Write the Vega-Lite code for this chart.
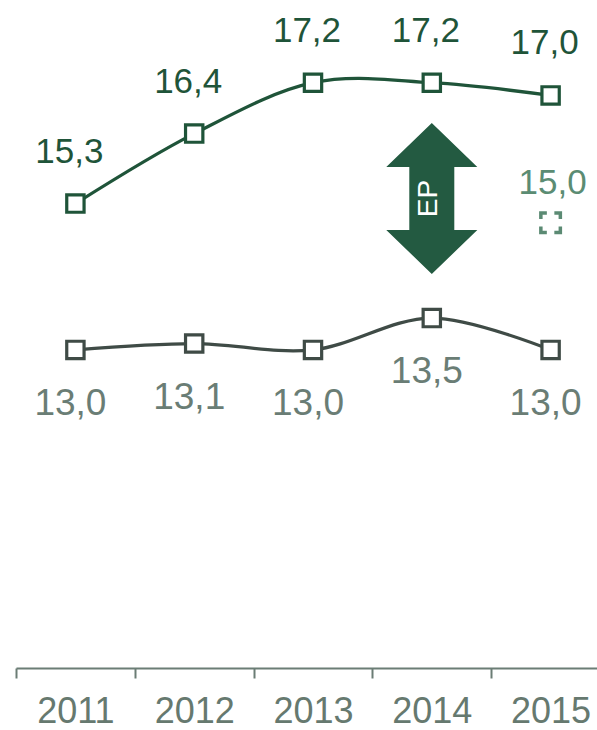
{
  "$schema": "https://vega.github.io/schema/vega-lite/v6.json",
  "width": 581,
  "height": 668,
  "autosize": {"type": "none"},
  "padding": {"left": 16, "top": 0, "right": 0, "bottom": 62},
  "background": "white",
  "config": {"view": {"stroke": null}},
  "data": {
    "values": [
      {"year": "2011", "series": "upper", "value": 15.3, "label": "15,3"},
      {"year": "2012", "series": "upper", "value": 16.4, "label": "16,4"},
      {"year": "2013", "series": "upper", "value": 17.2, "label": "17,2"},
      {"year": "2014", "series": "upper", "value": 17.2, "label": "17,2"},
      {"year": "2015", "series": "upper", "value": 17.0, "label": "17,0"},
      {"year": "2011", "series": "lower", "value": 13.0, "label": "13,0"},
      {"year": "2012", "series": "lower", "value": 13.1, "label": "13,1"},
      {"year": "2013", "series": "lower", "value": 13.0, "label": "13,0"},
      {"year": "2014", "series": "lower", "value": 13.5, "label": "13,5"},
      {"year": "2015", "series": "lower", "value": 13.0, "label": "13,0"},
      {"year": "2015", "series": "target", "value": 15.0, "label": "15,0"},
      {"year": "2014", "series": "arrow", "value": 15.38, "label": "EP"}
    ]
  },
  "encoding": {
    "x": {
      "field": "year",
      "type": "ordinal",
      "scale": {"type": "band", "range": [0, 594], "paddingInner": 0, "paddingOuter": 0},
      "axis": {
        "title": null,
        "labelAngle": 0,
        "domainColor": "#6b7d75",
        "domainWidth": 2,
        "tickColor": "#6b7d75",
        "tickWidth": 2,
        "tickSize": 10,
        "tickOffset": -59.4,
        "labelOffset": 59.4,
        "labelFont": "Liberation Sans",
        "labelFontSize": 36,
        "labelColor": "#66796f",
        "labelPadding": 16
      }
    },
    "y": {
      "field": "value",
      "type": "quantitative",
      "scale": {"domain": [8, 18.5], "nice": false, "zero": false},
      "axis": null
    }
  },
  "layer": [
    {
      "transform": [{"filter": "datum.series === 'arrow'"}],
      "mark": {
        "type": "point",
        "shape": "M0,-1L0.603,-0.417L0.298,-0.417L0.298,0.417L0.603,0.417L0,1L-0.603,0.417L-0.298,0.417L-0.298,-0.417L-0.603,-0.417Z",
        "size": 22801,
        "filled": true,
        "fill": "#235a41",
        "strokeWidth": 0,
        "opacity": 1
      }
    },
    {
      "transform": [{"filter": "datum.series === 'arrow'"}],
      "mark": {
        "type": "text",
        "angle": 270,
        "align": "center",
        "baseline": "middle",
        "font": "Liberation Sans",
        "fontSize": 28,
        "color": "white",
        "dy": -3
      },
      "encoding": {"text": {"field": "label"}}
    },
    {
      "transform": [{"filter": "datum.series === 'upper'"}],
      "mark": {"type": "line", "interpolate": "cardinal", "color": "#1f5439", "strokeWidth": 3.3}
    },
    {
      "transform": [{"filter": "datum.series === 'lower'"}],
      "mark": {"type": "line", "interpolate": "cardinal", "color": "#3f4b46", "strokeWidth": 3.3}
    },
    {
      "transform": [{"filter": "datum.series === 'upper'"}],
      "mark": {"type": "point", "shape": "square", "size": 300, "filled": true, "fill": "white", "stroke": "#1f5439", "strokeWidth": 3.2, "opacity": 1}
    },
    {
      "transform": [{"filter": "datum.series === 'lower'"}],
      "mark": {"type": "point", "shape": "square", "size": 300, "filled": true, "fill": "white", "stroke": "#3f4b46", "strokeWidth": 3.2, "opacity": 1}
    },
    {
      "transform": [{"filter": "datum.series === 'target'"}],
      "mark": {"type": "point", "shape": "square", "size": 380, "filled": false, "stroke": "#5b8a73", "strokeWidth": 3.5, "strokeDash": [12, 7.5], "strokeDashOffset": 6, "opacity": 1}
    },
    {
      "transform": [{"filter": "datum.series === 'upper'"}],
      "mark": {"type": "text", "font": "Liberation Sans", "fontSize": 35, "color": "#1f5439", "baseline": "alphabetic", "align": "center", "dy": -41, "dx": -6},
      "encoding": {"text": {"field": "label"}}
    },
    {
      "transform": [{"filter": "datum.series === 'lower'"}],
      "mark": {"type": "text", "font": "Liberation Sans", "fontSize": 37, "color": "#6a7d75", "baseline": "alphabetic", "align": "center", "dy": 65, "dx": -5},
      "encoding": {"text": {"field": "label"}}
    },
    {
      "transform": [{"filter": "datum.series === 'target'"}],
      "mark": {"type": "text", "font": "Liberation Sans", "fontSize": 35, "color": "#5b8c73", "baseline": "alphabetic", "align": "center", "dy": -29, "dx": 2},
      "encoding": {"text": {"field": "label"}}
    }
  ]
}
